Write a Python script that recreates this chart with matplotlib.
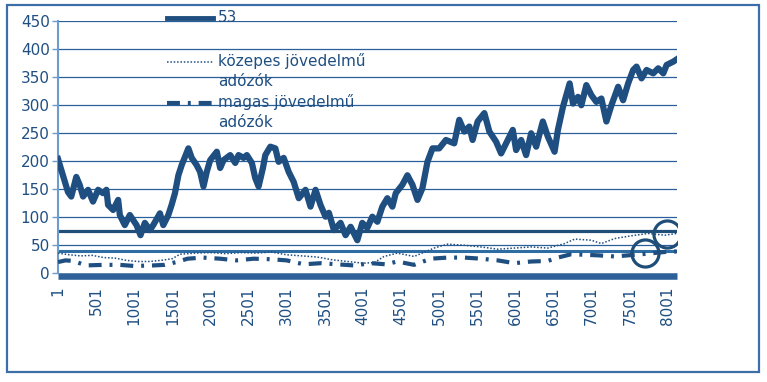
import matplotlib
matplotlib.use("Agg")
import matplotlib.pyplot as plt
from matplotlib.lines import Line2D
from matplotlib.patches import Rectangle

# series "53" (index -> value)
main_x = [1, 66, 132, 175, 241, 285, 330, 395, 460, 527, 592, 636, 658, 724, 790, 812, 877, 943,
          1031, 1083, 1140, 1206, 1250, 1338, 1382, 1448, 1491, 1535, 1580, 1623, 1667, 1711, 1755,
          1820, 1865, 1909, 1952, 1997, 2084, 2128, 2172, 2260, 2326, 2369, 2435, 2478, 2544, 2588,
          2632, 2689, 2720, 2786, 2852, 2895, 2961, 3027, 3093, 3159, 3247, 3313, 3379, 3444, 3510,
          3554, 3620, 3707, 3773, 3839, 3927, 3992, 4058, 4124, 4190, 4255, 4321, 4387, 4431, 4518,
          4584, 4650, 4716, 4781, 4847, 4913, 5001, 5089, 5198, 5264, 5330, 5396, 5439, 5505, 5593,
          5659, 5747, 5813, 5900, 5966, 6010, 6076, 6141, 6207, 6273, 6360, 6426, 6514, 6558, 6624,
          6712, 6756, 6821, 6865, 6931, 6997, 7062, 7128, 7194, 7260, 7348, 7413, 7479, 7545, 7589,
          7655, 7721, 7808, 7874, 7940, 7984, 8072, 8116]
main_y = [203, 174, 144, 136, 171, 157, 136, 148, 127, 148, 142, 148, 121, 112, 130, 103, 85, 103,
          85, 67, 89, 76, 85, 106, 85, 103, 121, 142, 174, 192, 207, 222, 205,
          192, 180, 154, 180, 201, 216, 187, 201, 210, 196, 210, 205, 210, 196, 169,
          154, 187, 210, 225, 222, 198, 205, 180, 162, 133, 148, 118, 148, 121, 100,
          107, 76, 89, 67, 82, 58, 89, 80, 100, 91, 118, 133, 118, 142, 157,
          174, 157, 130, 151, 198, 222, 222, 237, 231, 273, 252, 261, 237, 270, 285,
          252, 234, 213, 237, 255, 219, 237, 210, 249, 225, 270, 243, 216, 255, 296,
          338, 302, 314, 299, 335, 317, 305, 311, 270, 299, 332, 308, 338, 362, 368,
          347, 362, 356, 365, 356, 371, 377, 381]

# közepes jövedelmű adózók
koz_x = [1, 150, 300, 450, 600, 750, 900, 1050, 1200, 1350, 1500, 1600, 1800, 2000, 2200, 2400,
         2600, 2800, 3000, 3200, 3400, 3600, 3800, 4000, 4150, 4277, 4452, 4671, 4934, 5110, 5330,
         5549, 5768, 5988, 6207, 6426, 6646, 6777, 6997, 7128, 7303, 7523, 7742, 7961, 8116]
koz_y = [35, 32, 30, 31, 27, 26, 22, 20, 20, 22, 25, 33, 35, 36, 34, 36,
         35, 37, 32, 30, 28, 23, 20, 17, 18, 29, 35, 29, 44, 51, 49,
         46, 42, 44, 46, 44, 52, 60, 58, 52, 61, 66, 70, 67, 70]

# magas jövedelmű adózók
mag_x = [1, 100, 200, 370, 600, 812, 1000, 1250, 1400, 1553, 1700, 1900, 2128, 2343, 2567, 2800,
         3001, 3224, 3448, 3660, 3882, 4106, 4300, 4452, 4671, 4891, 5110, 5330, 5549, 5768, 5988,
         6207, 6426, 6558, 6733, 7084, 7303, 7655, 7961, 8116]
mag_y = [19, 22, 21, 13, 14, 14, 12, 13, 14, 19, 25, 27, 25, 22, 25, 24,
         22, 15, 17, 15, 13, 17, 15, 20, 14, 25, 27, 27, 25, 22, 17,
         20, 21, 27, 33, 31, 29, 33, 37, 38]

level_hi = 74
level_lo = 39
circle_x = [7698, 7984]
circle_y = [36, 70]

xticks = list(range(1, 8002, 500))
yticks = list(range(0, 451, 50))

navy = '#1f4e80'
txt = '#1f4f82'

fig = plt.figure(figsize=(7.67, 3.82), dpi=100)
ax = fig.add_axes([58 / 767, 1 - 272.7 / 382, 619 / 767, 252 / 382])

for y in yticks[1:]:
    ax.axhline(y, color='#2a6099', lw=0.9, zorder=1)
ax.axhline(level_hi, color='#1f4e79', lw=2.3, zorder=2)
ax.axhline(level_lo, color='#2e6da4', lw=2.2, zorder=2)

ax.plot(koz_x, koz_y, color=navy, lw=1.1, ls=(0, (1, 1.2)), zorder=3)
ax.plot(mag_x, mag_y, color=navy, lw=3, ls=(0, (3.1, 1.9, 0.7, 1.9)), zorder=3)
ax.plot(main_x, main_y, color=navy, lw=4.5, solid_joinstyle='round', zorder=4)
ax.plot(circle_x, circle_y, 'o', ms=19.5, mfc='none', mec='#1f4e79', mew=2.3, zorder=5)

# thick bar under the category axis
ax.axhline(-5.5, color='#2e6199', lw=4.7, clip_on=False, solid_capstyle='butt', zorder=2)

ax.set_xlim(1, 8120)
ax.set_ylim(0, 450)
ax.set_xticks(xticks)
ax.set_xticklabels([str(v) for v in xticks], rotation=90, va='top')
ax.set_yticks(yticks)
ax.tick_params(axis='x', length=0, pad=10, labelsize=11, labelcolor=txt)
ax.tick_params(axis='y', length=4, width=1, color='#6b9bcf', pad=2, labelsize=11, labelcolor=txt)
for s in ['top', 'right', 'bottom']:
    ax.spines[s].set_visible(False)
ax.spines['left'].set_color('#6b9bcf')
ax.spines['left'].set_linewidth(1.5)

# legend drawn by hand, handles aligned with the first text line
def fx(p):
    return p / 767

def fy(p):
    return 1 - p / 382

fig.add_artist(Line2D([fx(167), fx(213)], [fy(18), fy(18)], color=navy, lw=3.5))
fig.add_artist(Line2D([fx(167), fx(213)], [fy(62), fy(62)], color=navy, lw=1.1, ls=(0, (1, 1.2))))
fig.add_artist(Line2D([fx(167), fx(213)], [fy(103), fy(103)], color=navy, lw=3,
                      ls=(0, (3.1, 1.9, 0.7, 1.9))))
fig.text(fx(218), fy(18), '53', fontsize=11, color=txt, va='center')
fig.text(fx(218), fy(53), 'közepes jövedelmű\nadózók', fontsize=11, color=txt, va='top',
         linespacing=1.45)
fig.text(fx(218), fy(94), 'magas jövedelmű\nadózók', fontsize=11, color=txt, va='top',
         linespacing=1.45)

# chart area border
fig.add_artist(Rectangle((fx(7), fy(372)), fx(752), 367 / 382, fill=False,
                         edgecolor='#3c6ea8', lw=1.6))

fig.savefig('out.png', dpi=100)
